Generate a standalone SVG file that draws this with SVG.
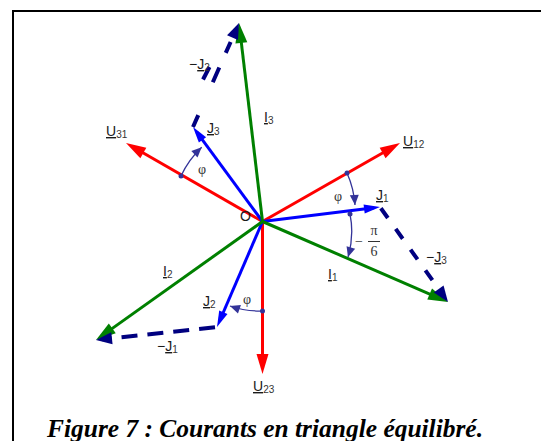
<svg xmlns="http://www.w3.org/2000/svg" width="541" height="441" viewBox="0 0 541 441">
<style>
.r{stroke:#ff0000;stroke-width:3;fill:none}
.g{stroke:#008000;stroke-width:3;fill:none}
.b{stroke:#0000ff;stroke-width:3;fill:none}
.n{stroke:#000080;stroke-width:4;fill:none}
.a{stroke:#333399;stroke-width:1.3;fill:none}
.lbl{font-family:"Liberation Sans",Arial,sans-serif;font-size:14px;fill:#1a1a1a}
.sub{font-size:10px;fill:#333}
.ul{text-decoration:underline}
.gr{font-family:"Liberation Serif","Times New Roman",serif;font-size:14px;fill:#333}
.cap{font-family:"Liberation Serif","Times New Roman",serif;font-size:25px;font-weight:bold;font-style:italic;fill:#000}
</style>
<defs>
<marker id="ar" markerUnits="userSpaceOnUse" markerWidth="20" markerHeight="12" refX="12" refY="6" orient="auto" overflow="visible"><path d="M0,0 L20,6 L0,12 z" fill="#ff0000"/></marker>
<marker id="ag" markerUnits="userSpaceOnUse" markerWidth="20" markerHeight="12" refX="12" refY="6" orient="auto" overflow="visible"><path d="M0,0 L20,6 L0,12 z" fill="#008000"/></marker>
<marker id="ab" markerUnits="userSpaceOnUse" markerWidth="16" markerHeight="9" refX="10" refY="4.5" orient="auto" overflow="visible"><path d="M0,0 L16,4.5 L0,9 z" fill="#0000ff"/></marker>
<marker id="an" markerUnits="userSpaceOnUse" markerWidth="16" markerHeight="12" refX="10" refY="6" orient="auto" overflow="visible"><path d="M0,0 L16,6 L0,12 z" fill="#000080"/></marker>
<marker id="aa" markerUnits="userSpaceOnUse" markerWidth="10" markerHeight="9" refX="10" refY="4.5" orient="auto" overflow="visible"><path d="M0,0 L10,4.5 L0,9 z" fill="#333399"/></marker>
</defs>
<rect width="541" height="441" fill="#fff"/>
<path d="M13,441 V11 H541" stroke="#000" stroke-width="2" fill="none"/>

<g id="connectors">
<g id="U">
<line class="r" x1="262.5" y1="221.5" x2="393.05" y2="146.97" marker-end="url(#ar)"/>
<line class="r" x1="262.5" y1="221.5" x2="132.93" y2="146.99" marker-end="url(#ar)"/>
<line class="r" x1="262.5" y1="221.5" x2="262.5" y2="366" marker-end="url(#ar)"/>
</g>
<g id="J">
<line class="b" x1="262.5" y1="221.5" x2="374.05" y2="207.73" marker-end="url(#ab)"/>
<line class="b" x1="262.5" y1="221.5" x2="219.38" y2="321.49" marker-end="url(#ab)"/>
<line class="b" x1="262.5" y1="221.5" x2="196.56" y2="131.83" marker-end="url(#ab)"/>
</g>
<g id="I">
<line class="g" x1="262.5" y1="221.5" x2="440.66" y2="298.82" marker-end="url(#ag)"/>
<line class="g" x1="262.5" y1="221.5" x2="102.52" y2="335.36" marker-end="url(#ag)"/>
<line class="g" x1="262.5" y1="221.5" x2="239.94" y2="30.94" marker-end="url(#ag)"/>
</g>
<g id="minusJ">
<line class="n" x1="380" y1="207" x2="444.5" y2="297.1" stroke-dasharray="12,13.5" stroke-dashoffset="24" marker-end="url(#an)"/>
<line class="n" x1="217" y1="327" x2="101.97" y2="339.36" stroke-dasharray="16,10" stroke-dashoffset="24" marker-end="url(#an)"/>
<line class="n" x1="193" y1="127" x2="236.57" y2="28.49" stroke-dasharray="13,36,16,16,12,30" marker-end="url(#an)"/>
<line class="n" x1="209.5" y1="67" x2="203" y2="79.5"/>
</g>
<g id="angles">
<path class="a" d="M181,176 A94,94 0 0,1 201.7,147.3" marker-end="url(#aa)"/>
<path class="a" d="M347,173 A96,96 0 0,1 355,205" marker-end="url(#aa)"/>
<path class="a" d="M350,214 A89,89 0 0,1 348,257" marker-end="url(#aa)"/>
<path class="a" d="M262.5,311 A90,90 0 0,1 230,306" marker-end="url(#aa)"/>
<g fill="#333399">
<circle cx="181" cy="176" r="2.5"/>
<circle cx="347" cy="173" r="2.5"/>
<circle cx="350" cy="214" r="2.5"/>
<circle cx="262.5" cy="311" r="2.5"/>
</g>
</g>
</g>

<g id="labels">
<text id="O" class="lbl" x="240" y="221">O</text>
<text id="lU31" class="lbl" x="106" y="136"><tspan class="ul">U</tspan><tspan class="sub" dy="2">31</tspan></text>
<text id="lU12" class="lbl" x="403" y="146"><tspan class="ul">U</tspan><tspan class="sub" dy="2">12</tspan></text>
<text id="lU23" class="lbl" x="253" y="391"><tspan class="ul">U</tspan><tspan class="sub" dy="2">23</tspan></text>
<text id="lJ3" class="lbl" x="207" y="133"><tspan class="ul">J</tspan><tspan class="sub" dy="2">3</tspan></text>
<text id="lJ1" class="lbl" x="376" y="200"><tspan class="ul">J</tspan><tspan class="sub" dy="2">1</tspan></text>
<text id="lJ2" class="lbl" x="203" y="306"><tspan class="ul">J</tspan><tspan class="sub" dy="2">2</tspan></text>
<text id="lI3" class="lbl" x="264" y="122"><tspan class="ul">I</tspan><tspan class="sub" dy="2">3</tspan></text>
<text id="lI1" class="lbl" x="328" y="279"><tspan class="ul">I</tspan><tspan class="sub" dy="2">1</tspan></text>
<text id="lI2" class="lbl" x="163" y="276"><tspan class="ul">I</tspan><tspan class="sub" dy="2">2</tspan></text>
<text id="lmJ2" class="lbl" x="189" y="69">−<tspan class="ul">J</tspan><tspan class="sub" dy="2">2</tspan></text>
<text id="lmJ3" class="lbl" x="426" y="262">−<tspan class="ul">J</tspan><tspan class="sub" dy="2">3</tspan></text>
<text id="lmJ1" class="lbl" x="157" y="351">−<tspan class="ul">J</tspan><tspan class="sub" dy="2">1</tspan></text>
<text class="gr" x="198" y="174">φ</text>
<text class="gr" x="334" y="201">φ</text>
<text class="gr" x="243" y="304">φ</text>
<g id="minuspi6">
<text class="gr" x="355" y="246">−</text>
<text class="gr" x="374" y="235" text-anchor="middle">π</text>
<line x1="368" y1="241.5" x2="380" y2="241.5" stroke="#333" stroke-width="1"/>
<text class="gr" x="374" y="256" text-anchor="middle">6</text>
</g>
</g>
<text class="cap" x="47" y="437" textLength="436" lengthAdjust="spacingAndGlyphs">Figure 7 : Courants en triangle équilibré.</text>
</svg>
